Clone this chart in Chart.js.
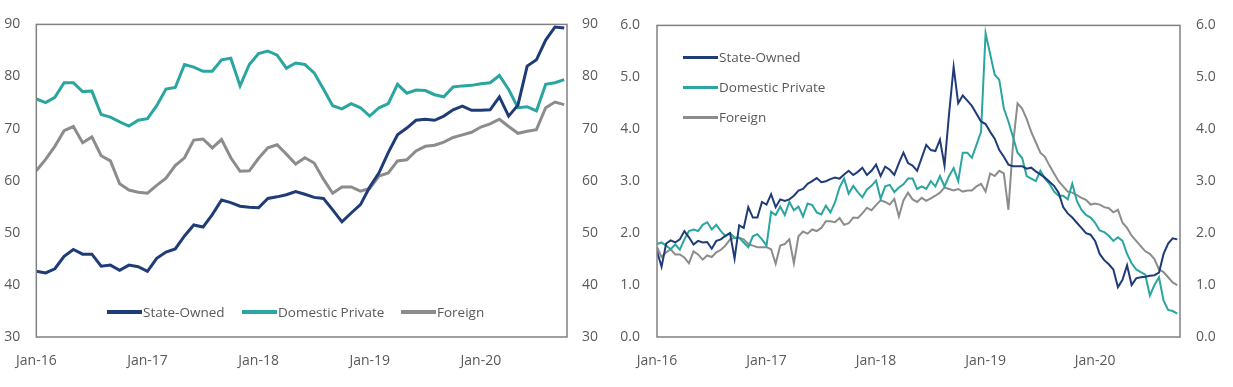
<!DOCTYPE html>
<html>
<head>
<meta charset="utf-8">
<script src="https://cdn.jsdelivr.net/npm/chart.js@4.4.1/dist/chart.umd.min.js"></script>
<style>
  html, body { margin: 0; padding: 0; background: #fff; }
  body { width: 1233px; height: 387px; position: relative; overflow: hidden; font-family: "Open Sans", sans-serif; }
  .panel { position: absolute; top: 0; height: 387px; }
  #leftPanel { left: 0; width: 620px; }
  #rightPanel { left: 620px; width: 613px; }
  .item { position: absolute; white-space: nowrap; font-size: 13.5px; color: #595959; line-height: 20px; height: 20px; }
  .swatch { position: absolute; left: 0; width: 35px; }
  .item span { position: absolute; top: 0; }
</style>
</head>
<body>
<div class="panel" id="leftPanel"><canvas id="levels" width="620" height="387"></canvas></div>
<div class="panel" id="rightPanel"><canvas id="growth" width="613" height="387"></canvas></div>
<script>
// x positions are months since Jan-16
const yearTicks = [0, 12, 24, 36, 48];
const yearLabels = ['Jan-16', 'Jan-17', 'Jan-18', 'Jan-19', 'Jan-20'];
const seriesNames = ['State-Owned', 'Domestic Private', 'Foreign'];

// left panel: monthly, Jan-16 .. Oct-20
const monthsL = Array.from({ length: 58 }, (_, i) => i);
const stateOwnedL = [
  42.6, 42.3, 43.1, 45.5, 46.8, 45.9, 45.9, 43.6, 43.8, 42.8, 43.8, 43.5,
  42.6, 45.1, 46.3, 46.9, 49.4, 51.5, 51.1, 53.5, 56.3, 55.8, 55.1, 54.9,
  54.8, 56.6, 56.9, 57.3, 57.9, 57.4, 56.8, 56.6, 54.4, 52.1, 53.8, 55.4,
  58.8, 61.5, 65.4, 68.8, 70.1, 71.6, 71.8, 71.6, 72.4, 73.6, 74.3, 73.5,
  73.5, 73.6, 76.1, 72.4, 74.5, 82.0, 83.2, 87.0, 89.5, 89.3
];
const domesticL = [
  75.7, 75.0, 76.0, 78.8, 78.8, 77.1, 77.2, 72.7, 72.2, 71.3, 70.5, 71.6,
  71.9, 74.4, 77.6, 77.9, 82.3, 81.8, 81.0, 81.0, 83.2, 83.5, 78.2, 82.3,
  84.4, 84.9, 84.1, 81.6, 82.6, 82.3, 80.7, 77.6, 74.4, 73.8, 74.8, 74.0,
  72.4, 74.0, 74.8, 78.5, 76.8, 77.4, 77.3, 76.5, 76.1, 78.0, 78.2, 78.3,
  78.6, 78.8, 80.2, 77.5, 74.0, 74.2, 73.4, 78.5, 78.8, 79.4
];
const foreignL = [
  61.9, 64.1, 66.6, 69.6, 70.4, 67.3, 68.4, 64.8, 63.8, 59.4, 58.2, 57.8,
  57.6, 59.1, 60.5, 62.9, 64.4, 67.8, 68.0, 66.3, 67.9, 64.4, 61.8, 61.9,
  64.3, 66.3, 66.9, 65.1, 63.2, 64.4, 63.4, 60.3, 57.6, 58.8, 58.8, 58.0,
  58.5, 60.9, 61.5, 63.8, 64.0, 65.7, 66.6, 66.8, 67.4, 68.3, 68.8, 69.3,
  70.3, 70.9, 71.8, 70.4, 69.1, 69.5, 69.8, 74.0, 75.1, 74.6
];

// right panel: twice a month, Jan-16 .. Oct-20
const halfMonthsR = Array.from({ length: 115 }, (_, i) => i / 2);
const stateOwnedR = [
  1.65, 1.35, 1.80, 1.86, 1.82, 1.88, 2.04, 1.92, 1.78, 1.85, 1.82, 1.83,
  1.70, 1.85, 1.88, 1.95, 2.00, 1.51, 2.15, 2.10, 2.50, 2.30, 2.30, 2.60,
  2.55, 2.75, 2.50, 2.65, 2.62, 2.65, 2.72, 2.82, 2.85, 2.95, 3.00, 3.06,
  2.98, 3.00, 3.04, 3.07, 3.05, 3.13, 3.20, 3.12, 3.18, 3.26, 3.12, 3.20,
  3.32, 3.10, 3.28, 3.22, 3.12, 3.35, 3.55, 3.35, 3.30, 3.20, 3.45, 3.70,
  3.60, 3.58, 3.80, 3.30, 4.30, 5.20, 4.50, 4.65, 4.55, 4.45, 4.30, 4.15,
  4.10, 3.95, 3.82, 3.60, 3.47, 3.32, 3.29, 3.29, 3.29, 3.24, 3.26, 3.19,
  3.13, 3.07, 2.99, 2.91, 2.78, 2.50, 2.38, 2.30, 2.20, 2.10, 2.00, 1.97,
  1.85, 1.60, 1.48, 1.40, 1.30, 0.96, 1.10, 1.38, 1.00, 1.13, 1.15, 1.16,
  1.18, 1.19, 1.24, 1.60, 1.80, 1.90, 1.88
];
const domesticR = [
  1.79, 1.82, 1.76, 1.69, 1.78, 1.68, 1.88, 2.04, 2.07, 2.04, 2.16, 2.21,
  2.07, 2.16, 2.04, 1.94, 2.00, 1.91, 1.91, 1.82, 1.73, 1.94, 1.98, 1.88,
  1.76, 2.41, 2.35, 2.51, 2.35, 2.60, 2.44, 2.51, 2.32, 2.57, 2.54, 2.40,
  2.36, 2.53, 2.40, 2.59, 2.88, 3.05, 2.76, 2.91, 2.79, 2.69, 2.84, 2.91,
  3.01, 2.66, 2.90, 2.93, 2.79, 2.88, 2.94, 3.05, 3.05, 2.85, 2.90, 2.85,
  3.00, 2.90, 3.10, 2.90, 3.10, 3.25, 3.00, 3.55, 3.55, 3.45, 3.70, 3.95,
  5.85, 5.45, 5.05, 4.95, 4.40, 4.15, 3.85, 3.55, 3.45, 3.10, 3.05, 3.00,
  3.20, 3.05, 2.95, 2.80, 2.72, 2.72, 2.65, 2.95, 2.62, 2.45, 2.35, 2.30,
  2.20, 2.05, 2.02, 1.95, 1.85, 1.92, 1.85, 1.60, 1.42, 1.30, 1.25, 1.20,
  0.80, 1.00, 1.15, 0.70, 0.52, 0.50, 0.45
];
const foreignR = [
  1.73, 1.54, 1.63, 1.69, 1.59, 1.59, 1.53, 1.42, 1.65, 1.59, 1.49, 1.57,
  1.54, 1.63, 1.68, 1.76, 1.88, 1.91, 1.91, 1.88, 1.79, 1.76, 1.73, 1.73,
  1.73, 1.69, 1.41, 1.76, 1.79, 1.88, 1.42, 1.94, 2.03, 1.99, 2.07, 2.04,
  2.10, 2.23, 2.23, 2.21, 2.29, 2.16, 2.19, 2.30, 2.29, 2.38, 2.49, 2.44,
  2.54, 2.63, 2.60, 2.55, 2.66, 2.32, 2.63, 2.78, 2.65, 2.60, 2.68, 2.62,
  2.67, 2.72, 2.78, 2.88, 2.85, 2.82, 2.85, 2.80, 2.82, 2.82, 2.90, 2.95,
  2.80, 3.15, 3.10, 3.20, 3.15, 2.45, 3.70, 4.50, 4.40, 4.20, 3.95, 3.75,
  3.55, 3.47, 3.30, 3.15, 3.00, 2.90, 2.80, 2.78, 2.73, 2.68, 2.64, 2.55,
  2.57, 2.55, 2.50, 2.48, 2.40, 2.45, 2.20, 2.10, 1.95, 1.85, 1.75, 1.65,
  1.60, 1.50, 1.30, 1.25, 1.15, 1.05, 1.00
];

const colors = ['#1f3c78', '#2aa59f', '#8c8c8c'];
const textColor = '#595959';
const tickFont = { family: 'Open Sans', size: 14 };

// box round the plot area
const frame = {
  id: 'frame',
  afterDatasetsDraw(chart) {
    const a = chart.chartArea;
    const ctx = chart.ctx;
    ctx.save();
    ctx.strokeStyle = '#808080';
    ctx.lineWidth = 1.5;
    ctx.strokeRect(a.left, a.top, a.right - a.left, a.bottom - a.top);
    ctx.restore();
  }
};

function points(xs, ys) {
  return xs.map((x, i) => ({ x: x, y: ys[i] }));
}

function yAxis(position, min, max, width, pad, decimals) {
  return {
    position: position, min: min, max: max,
    grid: { display: false, drawTicks: false },
    border: { display: false },
    ticks: {
      stepSize: (max - min) / 6, padding: pad, color: textColor, font: tickFont,
      callback: v => v.toFixed(decimals)
    },
    afterFit: s => { s.width = width; }
  };
}

function makeChart(canvas, xs, values, lineWidth, yMin, yMax, leftW, rightW, leftPad, rightPad, decimals) {
  return new Chart(canvas, {
    type: 'line',
    data: {
      datasets: seriesNames.map((name, i) => ({
        label: name,
        data: points(xs, values[i]),
        borderColor: colors[i],
        backgroundColor: colors[i],
        borderWidth: lineWidth,
        pointRadius: 0,
        tension: 0,
        fill: false
      }))
    },
    options: {
      responsive: false,
      animation: false,
      events: [],
      layout: { padding: { top: 17, left: 0, right: 0, bottom: 0 } },
      plugins: { legend: { display: false }, tooltip: { enabled: false } },
      scales: {
        x: {
          type: 'linear', min: 0, max: 57.3,
          grid: { display: false, drawTicks: false },
          border: { display: false },
          afterBuildTicks: s => { s.ticks = yearTicks.map(v => ({ value: v })); },
          ticks: {
            autoSkip: false, maxRotation: 0, padding: 16, color: textColor, font: tickFont,
            callback: (v, i) => yearLabels[i]
          },
          afterFit: s => { s.height = 50; }
        },
        y: yAxis('left', yMin, yMax, leftW, leftPad, decimals),
        y2: yAxis('right', yMin, yMax, rightW, rightPad, decimals)
      }
    },
    plugins: [frame]
  });
}

const levelsChart = makeChart(document.getElementById('levels'), monthsL,
  [stateOwnedL, domesticL, foreignL], 3, 30, 90, 34, 53, 16, 15, 0);
const growthChart = makeChart(document.getElementById('growth'), halfMonthsR,
  [stateOwnedR, domesticR, foreignR], 2, 0, 6, 37, 53, 17, 16, 1);

// legends as html text, placed inside the plot areas
function addLegend(panelId, chart, spots, thickness) {
  const panel = document.getElementById(panelId);
  chart.data.datasets.forEach((ds, i) => {
    const item = document.createElement('div');
    item.className = 'item';
    item.style.left = spots[i][0] + 'px';
    item.style.top = (spots[i][1] - 10) + 'px';
    const sw = document.createElement('div');
    sw.className = 'swatch';
    sw.style.background = ds.borderColor;
    sw.style.height = thickness + 'px';
    sw.style.top = (10 - thickness / 2) + 'px';
    const label = document.createElement('span');
    label.textContent = ds.label;
    label.style.left = '36px';
    item.appendChild(sw);
    item.appendChild(label);
    panel.appendChild(item);
  });
}

addLegend('leftPanel', levelsChart, [[107, 312], [242, 312], [401, 312]], 4);
addLegend('rightPanel', growthChart, [[63, 57], [63, 87], [63, 117]], 3);
</script>
</body>
</html>
